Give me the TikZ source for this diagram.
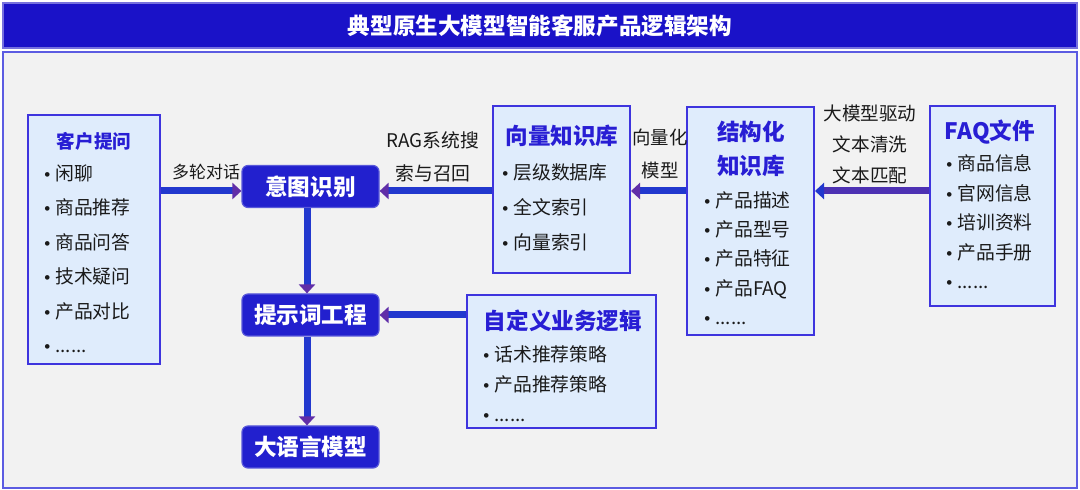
\documentclass[tikz,border=0pt]{standalone}
\usepackage{fontspec}
\setmainfont{Noto Sans CJK SC}
\newfontfamily\bulletfont{Liberation Sans}
\usetikzlibrary{arrows.meta, positioning, calc}
\definecolor{barblue}{RGB}{26, 18, 200}
\definecolor{panelgray}{RGB}{242, 242, 242}
\definecolor{panelline}{RGB}{92, 92, 226}
\definecolor{boxfill}{RGB}{223, 236, 252}
\definecolor{boxline}{RGB}{62, 52, 222}
\definecolor{headblue}{RGB}{40, 30, 212}
\definecolor{nodeblue}{RGB}{34, 32, 206}
\definecolor{flowblue}{RGB}{34, 56, 206}
\definecolor{flowpurple}{RGB}{96, 46, 168}
\definecolor{inkgray}{RGB}{26, 26, 26}
\newcommand{\dotitem}{\makebox[5.5pt][l]{\bulletfont\fontsize{8.5}{8.5}\selectfont\textbullet}}
\tikzset{
	titlebar/.style={rectangle, fill=barblue, draw=barblue!60!white, line width=0.6pt, minimum width=537pt, minimum height=22.5pt, text=white, font=\fontsize{11.3}{13}\selectfont\bfseries},
	panelbox/.style={rectangle, fill=panelgray, draw=panelline, line width=0.8pt, minimum width=537pt, minimum height=218pt},
	infobox/.style={rectangle, fill=boxfill, draw=boxline, line width=1pt},
	boxhead/.style={align=center, inner sep=0pt, text=headblue, font=\fontsize{11.3}{17}\selectfont\bfseries},
	itemlist/.style={align=left, inner sep=0pt, anchor=north west, text=inkgray},
	stage/.style={rectangle, rounded corners=3pt, fill=nodeblue, draw=nodeblue!75!white, line width=0.6pt, minimum width=68.5pt, minimum height=21pt, text=white, font=\fontsize{11.3}{13}\selectfont\bfseries},
	edgetext/.style={align=center, inner sep=0pt, text=inkgray},
	flowarrow/.style={-{Triangle[length=4.5pt, width=8pt, color=flowpurple]}, line width=3.5pt, draw=flowblue},
	backarrow/.style={-{Triangle[length=4.5pt, width=8pt, color=flowblue]}, line width=3.5pt, draw=flowpurple!70!flowblue},
}

\begin{document}
\begin{tikzpicture}[x=0.5pt, y=-0.5pt]
	\useasboundingbox (0,0) rectangle (1080,490);
	\node[titlebar] (title) at (540,25.5) {典型原生大模型智能客服产品逻辑架构};
	\node[panelbox] (panel) at (540,270) {};

	% boxes
	\node[infobox, minimum width=66pt, minimum height=124.5pt] (askbox) at (94,239.5) {};
	\node[infobox, minimum width=68.5pt, minimum height=83.5pt] (vecbox) at (561.5,189.5) {};
	\node[infobox, minimum width=63.5pt, minimum height=114pt] (structbox) at (750.5,221) {};
	\node[infobox, minimum width=62.5pt, minimum height=100pt] (faqbox) at (992.5,206) {};
	\node[infobox, minimum width=94.5pt, minimum height=66.5pt] (logicbox) at (561.5,361.5) {};

	\node[stage] (intent) at (310.5,186.5) {意图识别};
	\node[stage] (prompt) at (310.5,315) {提示词工程};
	\node[stage] (llm) at (310.5,447) {大语言模型};

	% box contents
	\node[boxhead, font=\fontsize{9.3}{17}\selectfont\bfseries] (asktitle) at ($(askbox.north)+(0,27)$) {客户提问};
	\node[itemlist, font=\fontsize{9.4}{17.2}\selectfont] (asklist) at ($(askbox.north west)+(17,49.2)$) {\rule{0pt}{0.9em}\dotitem 闲聊\\ \dotitem 商品推荐\\ \dotitem 商品问答\\ \dotitem 技术疑问\\ \dotitem 产品对比\\ \dotitem ......};
	\node[boxhead] (vectitle) at ($(vecbox.north)+(0.5,31)$) {向量知识库};
	\node[itemlist, font=\fontsize{9.4}{17.5}\selectfont] (veclist) at ($(vecbox.north west)+(10,57.2)$) {\rule{0pt}{0.9em}\dotitem 层级数据库\\ \dotitem 全文索引\\ \dotitem 向量索引};
	\node[boxhead] (structtitle) at ($(structbox.north)+(0.5,43)$) {结构化\\知识库};
	\node[itemlist, font=\fontsize{9.4}{14.6}\selectfont] (structlist) at ($(structbox.north west)+(18,84.2)$) {\rule{0pt}{0.9em}\dotitem 产品描述\\ \dotitem 产品型号\\ \dotitem 产品特征\\ \dotitem 产品FAQ\\ \dotitem ......};
	\node[boxhead] (faqtitle) at ($(faqbox.north)+(-2.5,27)$) {FAQ文件};
	\node[itemlist, font=\fontsize{9.4}{14.8}\selectfont] (faqlist) at ($(faqbox.north west)+(17,48.2)$) {\rule{0pt}{0.9em}\dotitem 商品信息\\ \dotitem 官网信息\\ \dotitem 培训资料\\ \dotitem 产品手册\\ \dotitem ......};
	\node[boxhead] (logictitle) at ($(logicbox.north)+(1.5,27)$) {自定义业务逻辑};
	\node[itemlist, font=\fontsize{9.4}{15}\selectfont] (logiclist) at ($(logicbox.north west)+(17,50.2)$) {\rule{0pt}{0.9em}\dotitem 话术推荐策略\\ \dotitem 产品推荐策略\\ \dotitem ......};

	% connector labels
	\node[edgetext, font=\fontsize{8.5}{16}\selectfont] (turnlabel) at (206,172) {多轮对话};
	\node[edgetext, font=\fontsize{9.4}{16.5}\selectfont] (raglabel) at (433,156.5) {RAG系统搜\\索与召回};
	\node[edgetext, font=\fontsize{9.2}{16.5}\selectfont] (embedlabel) at (660,153.5) {向量化\\模型};
	\node[edgetext, font=\fontsize{9.3}{15.5}\selectfont] (cleanlabel) at (870,144) {大模型驱动\\文本清洗\\文本匹配};

	% connectors
	\coordinate (toprow) at (0,191);
	\coordinate (stem) at (307,0);
	\draw[flowarrow] (askbox.east |- toprow) -- (intent.west |- toprow);
	\draw[flowarrow] (vecbox.west |- toprow) -- (intent.east |- toprow);
	\draw[flowarrow] (structbox.west |- toprow) -- (vecbox.east |- toprow);
	\draw[backarrow] (faqbox.west |- toprow) -- (structbox.east |- toprow);
	\draw[flowarrow] (intent.south -| stem) -- (prompt.north -| stem);
	\draw[flowarrow] (logicbox.west |- prompt.east) -- (prompt.east);
	\draw[flowarrow] (prompt.south -| stem) -- (llm.north -| stem);
\end{tikzpicture}
\end{document}
